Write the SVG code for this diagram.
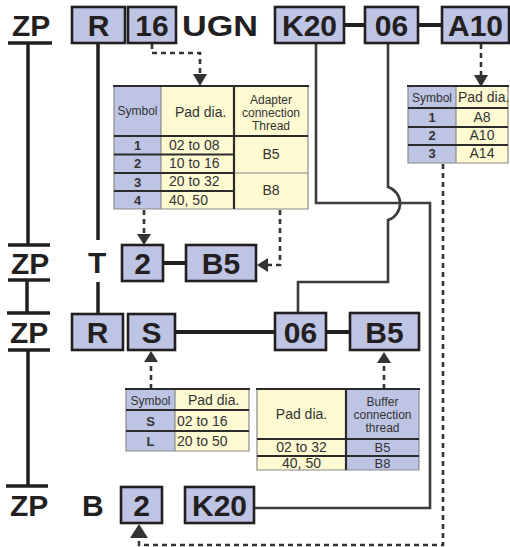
<svg xmlns="http://www.w3.org/2000/svg" width="510" height="547" viewBox="0 0 510 547">
<defs>
<style>
.big{font-family:"Liberation Sans",Arial,sans-serif;font-weight:bold;font-size:30px;fill:#231f20}
.bc{text-anchor:middle}
.box{fill:#bec4e4;stroke:#231f20;stroke-width:2.6}
.lav{fill:#bec4e4}
.yel{fill:#fefad2}
.t{font-family:"Liberation Sans",Arial,sans-serif;font-size:14px;fill:#333}
.t13{font-family:"Liberation Sans",Arial,sans-serif;font-size:13px;fill:#333}
.hd{font-family:"Liberation Sans",Arial,sans-serif;font-size:12px;fill:#333;text-anchor:middle}
.sym{font-family:"Liberation Sans",Arial,sans-serif;font-size:12px;fill:#333;text-anchor:middle}
.sb{font-family:"Liberation Sans",Arial,sans-serif;font-size:13px;font-weight:bold;fill:#333;text-anchor:middle}
.m{text-anchor:middle}
.dk{stroke:#2b2b2b;stroke-width:2.2;fill:none}
.gr{stroke:#8a8a8a;stroke-width:1.2;fill:none}
.zp{stroke:#231f20;stroke-width:3.5;fill:none}
.thick{stroke:#231f20;stroke-width:4;fill:none}
.route{stroke:#3c3c3c;stroke-width:2.6;fill:none}
.dash{stroke:#333;stroke-width:2.6;stroke-dasharray:5 4;fill:none}
.ah{fill:#333}
</style>
</defs>

<g id="zp-structure">
<line class="zp" x1="8" y1="43" x2="52" y2="43"/>
<line class="zp" x1="28" y1="43" x2="28" y2="245"/>
<line class="zp" x1="8" y1="245" x2="50" y2="245"/>
<line class="zp" x1="8" y1="280" x2="50" y2="280"/>
<line class="zp" x1="27" y1="280" x2="27" y2="313"/>
<line class="zp" x1="7" y1="313" x2="50" y2="313"/>
<line class="zp" x1="8" y1="350" x2="50" y2="350"/>
<line class="zp" x1="28" y1="350" x2="28" y2="486"/>
<line class="zp" x1="6" y1="486" x2="48" y2="486"/>
<text class="big" x="12" y="36">ZP</text>
<text class="big" x="11" y="274">ZP</text>
<text class="big" x="10" y="343">ZP</text>
<text class="big" x="10" y="516">ZP</text>
<text class="big" x="88" y="273">T</text>
<text class="big" x="82" y="516">B</text>
<text class="big" x="182" y="36" textLength="76" lengthAdjust="spacingAndGlyphs">UGN</text>
</g>

<g id="connectors">
<path class="zp" d="M98,43 V240 M98,282 V313"/>
<line class="thick" x1="344" y1="25" x2="365" y2="25"/>
<line class="thick" x1="418" y1="25" x2="442" y2="25"/>
<line class="thick" x1="163" y1="263" x2="186" y2="263"/>
<line class="thick" x1="175" y1="332" x2="275" y2="332"/>
<line class="thick" x1="326" y1="332" x2="350" y2="332"/>
<path class="route" d="M316,43 V203 H430 V508 H254"/>
<path class="route" d="M388,43 V187 A17.3,17.3 0 0 1 388,220 V282 H298 V313"/>
<path class="dash" d="M152,44 V53 H200 V74"/>
<polygon class="ah" points="193,74 207,74 200,86"/>
<path class="dash" d="M481,44 V75"/>
<polygon class="ah" points="474,75 488,75 481,87"/>
<path class="dash" d="M144,210 V234"/>
<polygon class="ah" points="137,234 151,234 144,245"/>
<path class="dash" d="M280,210 V265 H268"/>
<polygon class="ah" points="268,258 268,272 257,265"/>
<path class="dash" d="M151,389 V362"/>
<polygon class="ah" points="144,362 158,362 151,351"/>
<path class="dash" d="M384,389 V363"/>
<polygon class="ah" points="377,363 391,363 384,352"/>
<path class="dash" d="M443,164 V545 H139 V538"/>
<polygon class="ah" points="130,538 148,538 139,524"/>
</g>

<g id="node-R1"><rect class="box" x="72" y="7" width="53" height="36"/><text class="big bc" x="98.5" y="36">R</text></g>
<g id="node-16"><rect class="box" x="128" y="7" width="48" height="36"/><text class="big bc" x="152" y="36">16</text></g>
<g id="node-K20a"><rect class="box" x="275" y="7" width="69" height="36"/><text class="big bc" x="309.5" y="36">K20</text></g>
<g id="node-06a"><rect class="box" x="365" y="7" width="53" height="36"/><text class="big bc" x="391.5" y="36">06</text></g>
<g id="node-A10"><rect class="box" x="442" y="7" width="67" height="36"/><text class="big bc" x="475.5" y="36">A10</text></g>

<g id="node-2a"><rect class="box" x="122" y="245" width="41" height="36"/><text class="big bc" x="142.5" y="274">2</text></g>
<g id="node-B5a"><rect class="box" x="186" y="245" width="70" height="36"/><text class="big bc" x="221" y="274">B5</text></g>

<g id="node-R2"><rect class="box" x="72" y="314" width="51" height="36"/><text class="big bc" x="97.5" y="343">R</text></g>
<g id="node-S"><rect class="box" x="128" y="314" width="47" height="36"/><text class="big bc" x="151.5" y="343">S</text></g>
<g id="node-06b"><rect class="box" x="275" y="313" width="51" height="37"/><text class="big bc" x="300.5" y="343">06</text></g>
<g id="node-B5b"><rect class="box" x="350" y="313" width="69" height="37"/><text class="big bc" x="384.5" y="343">B5</text></g>

<g id="node-2b"><rect class="box" x="121" y="487" width="41" height="36"/><text class="big bc" x="141.5" y="516">2</text></g>
<g id="node-K20b"><rect class="box" x="185" y="487" width="69" height="36"/><text class="big bc" x="219.5" y="516">K20</text></g>

<g id="table-adapter">
<rect class="lav" x="114" y="86" width="47" height="123"/>
<rect class="yel" x="161" y="86" width="147" height="123"/>
<path class="gr" d="M114,86 V209 H308 V86 M161,86 V209 M234,173 H308"/>
<path class="dk" d="M114,136 H308 M114,154.5 H234 M114,173 H234 M114,191 H234 M234,86 V209"/>
<line class="dk" x1="113" y1="86" x2="309" y2="86" stroke-width="2.6"/>
<text class="sym" x="137.5" y="115">Symbol</text>
<text class="t" x="175" y="117">Pad dia.</text>
<text class="hd" x="271" y="104">Adapter</text>
<text class="hd" x="271" y="117">connection</text>
<text class="hd" x="271" y="130">Thread</text>
<text class="sb" x="137.5" y="150">1</text>
<text class="sb" x="137.5" y="168">2</text>
<text class="sb" x="137.5" y="187">3</text>
<text class="sb" x="137.5" y="205">4</text>
<text class="t" x="169" y="150">02 to 08</text>
<text class="t" x="169" y="168">10 to 16</text>
<text class="t" x="169" y="186">20 to 32</text>
<text class="t" x="169" y="205">40, 50</text>
<text class="t m" x="271" y="159">B5</text>
<text class="t m" x="271" y="195">B8</text>
</g>

<g id="table-a">
<rect class="lav" x="408" y="86" width="48" height="77"/>
<rect class="yel" x="456" y="86" width="52" height="77"/>
<path class="gr" d="M408,86 V163 H508 V86 M456,86 V163"/>
<path class="dk" d="M408,108 H508 M408,127 H508 M408,145 H508"/>
<line class="dk" x1="407" y1="86" x2="509" y2="86" stroke-width="2.6"/>
<text class="sym" x="432" y="102">Symbol</text>
<text class="t" x="458" y="102">Pad dia.</text>
<text class="sb" x="432" y="122">1</text>
<text class="sb" x="432" y="140">2</text>
<text class="sb" x="432" y="158">3</text>
<text class="t m" x="482" y="122">A8</text>
<text class="t m" x="482" y="140">A10</text>
<text class="t m" x="482" y="158">A14</text>
</g>

<g id="table-sl">
<rect class="lav" x="126" y="389" width="49" height="62"/>
<rect class="yel" x="175" y="389" width="74" height="62"/>
<path class="gr" d="M126,389 V451 H249 V389 M175,389 V451"/>
<path class="dk" d="M126,410 H249 M126,431 H249"/>
<line class="dk" x1="125" y1="389" x2="250" y2="389" stroke-width="2.6"/>
<text class="sym" x="150.5" y="405">Symbol</text>
<text class="t" x="188" y="405">Pad dia.</text>
<text class="sb" x="150.5" y="426">S</text>
<text class="sb" x="150.5" y="446">L</text>
<text class="t" x="177" y="426">02 to 16</text>
<text class="t" x="177" y="446">20 to 50</text>
</g>

<g id="table-buffer">
<rect class="yel" x="257" y="389" width="89" height="81"/>
<rect class="lav" x="346" y="389" width="73" height="81"/>
<path class="gr" d="M257,389 V470 H419 V389"/>
<path class="dk" d="M257,439 H419 M257,456 H419 M346,389 V470"/>
<line class="dk" x1="256" y1="389" x2="420" y2="389" stroke-width="2.6"/>
<text class="t m" x="301.5" y="419">Pad dia.</text>
<text class="hd" x="382.5" y="406">Buffer</text>
<text class="hd" x="382.5" y="419">connection</text>
<text class="hd" x="382.5" y="432">thread</text>
<text class="t m" x="301.5" y="452">02 to 32</text>
<text class="t m" x="301.5" y="468">40, 50</text>
<text class="t13 m" x="382.5" y="452">B5</text>
<text class="t13 m" x="382.5" y="468">B8</text>
</g>
</svg>
